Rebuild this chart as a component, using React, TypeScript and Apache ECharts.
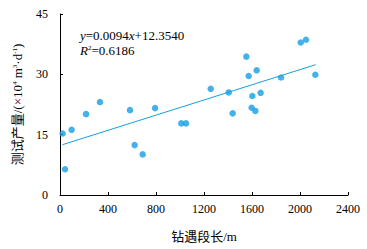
import React, { useEffect, useRef } from "react";
import * as echarts from "echarts";

const xValues = [22, 42, 97, 217, 333, 583, 622, 689, 792, 1011, 1050, 1256, 1406, 1439, 1553, 1572, 1597, 1603, 1628, 1639, 1672, 1842, 2006, 2050, 2128];
const yValues = [15.3, 6.4, 16.2, 20.1, 23.1, 21.1, 12.4, 10.1, 21.6, 17.8, 17.8, 26.4, 25.5, 20.3, 34.4, 29.6, 21.7, 24.6, 20.9, 31.0, 25.4, 29.2, 37.9, 38.6, 29.9];
const trendX = [20, 2130];
const trendY = [12.5, 32.4];
const xTicks = { min: 0, max: 2400, interval: 400 };
const yTicks = { min: 0, max: 45, interval: 15 };
const equationText = "0.0094";
const interceptText = "12.3540";
const r2Text = "0.6186";

const COLOR = "#159fe3";
const SERIF = "Liberation Serif, Times New Roman, Noto Sans CJK SC, serif";

export default function App() {
  const ref = useRef<HTMLDivElement>(null);
  useEffect(() => {
    if (!ref.current) return;
    const chart = echarts.init(ref.current, undefined, { renderer: "svg" });
    const points = xValues.map((x, i) => [x, yValues[i]]);
    const trend = trendX.map((x, i) => [x, trendY[i]]);
    chart.setOption({
      animation: false,
      textStyle: { fontFamily: SERIF },
      grid: { left: 60, right: 19, top: 14, bottom: 54 },
      xAxis: {
        type: "value",
        min: xTicks.min,
        max: xTicks.max,
        interval: xTicks.interval,
        splitLine: { show: false },
        axisLine: { show: true, lineStyle: { color: "#000", width: 1 } },
        axisTick: { show: true, inside: true, length: 3, lineStyle: { color: "#000" } },
        axisLabel: { color: "#000", fontFamily: SERIF, fontSize: 12, margin: 8, formatter: (v: number) => String(v) },
        name: "钻遇段长/m",
        nameLocation: "middle",
        nameGap: 35,
        nameTextStyle: { color: "#000", fontFamily: SERIF, fontSize: 13 },
      },
      yAxis: {
        type: "value",
        min: yTicks.min,
        max: yTicks.max,
        interval: yTicks.interval,
        splitLine: { show: false },
        axisLine: { show: true, lineStyle: { color: "#000", width: 1 } },
        axisTick: { show: true, inside: true, length: 3, lineStyle: { color: "#000" } },
        axisLabel: { color: "#000", fontFamily: SERIF, fontSize: 12, margin: 12, formatter: (v: number) => String(v) },
        name: "测试产量/(×10{sup|4} m{sup|3}·d{sup|-1})",
        nameLocation: "middle",
        nameGap: 36,
        nameRotate: 90,
        nameTextStyle: {
          color: "#000",
          fontFamily: SERIF,
          fontSize: 13,
          rich: {
            sup: { fontSize: 7, verticalAlign: "top", color: "#000", fontFamily: SERIF, padding: [0, 0, 5, 0] },
          },
        },
      },
      series: [
        {
          type: "scatter",
          data: points,
          symbol: "circle",
          symbolSize: 6.5,
          itemStyle: { color: COLOR },
        },
        {
          type: "line",
          data: trend,
          symbol: "none",
          lineStyle: { color: COLOR, width: 1 },
          silent: true,
        },
      ],
      graphic: [
        {
          type: "text",
          left: 80,
          top: 29,
          style: {
            text: "{i|y}=" + equationText + "{i|x}+" + interceptText,
            fontFamily: SERIF,
            fontSize: 13,
            fill: "#000",
            rich: { i: { fontStyle: "italic", fontFamily: SERIF, fontSize: 13, fill: "#000" } },
          },
        },
        {
          type: "text",
          left: 80,
          top: 44,
          style: {
            text: "{i|R}{s|2}=" + r2Text,
            fontFamily: SERIF,
            fontSize: 13,
            fill: "#000",
            rich: {
              i: { fontStyle: "italic", fontFamily: SERIF, fontSize: 13, fill: "#000" },
              s: { fontFamily: SERIF, fontSize: 7, fill: "#000", verticalAlign: "top", padding: [0, 0, 6, 0] },
            },
          },
        },
      ],
    });
    return () => chart.dispose();
  }, []);
  return <div ref={ref} style={{ width: 367, height: 249, position: "absolute", left: 0, top: 0, background: "#fff" }} />;
}
